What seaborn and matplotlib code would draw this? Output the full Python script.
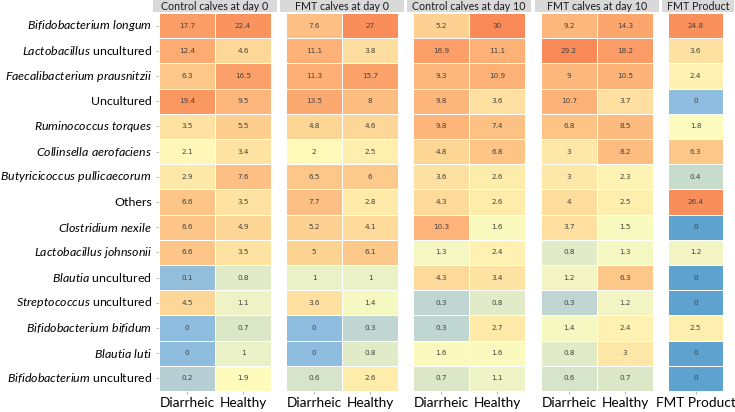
# ===================== IMPORTS =====================
import numpy as np
import pandas as pd
import seaborn as sns
import matplotlib.pyplot as plt
from matplotlib.colors import LinearSegmentedColormap
from matplotlib.patches import Rectangle

sns.set_style("white")
plt.rcParams["font.family"] = ["Lato", "DejaVu Sans"]
plt.rcParams["mathtext.fontset"] = "custom"
plt.rcParams["mathtext.rm"] = "Lato"
plt.rcParams["mathtext.it"] = "Lato:italic"

# ===================== DATA =====================
taxa = [
    r"$\it{Bifidobacterium\ longum}$",
    r"$\it{Lactobacillus}$ uncultured",
    r"$\it{Faecalibacterium\ prausnitzii}$",
    "Uncultured",
    r"$\it{Ruminococcus\ torques}$",
    r"$\it{Collinsella\ aerofaciens}$",
    r"$\it{Butyricicoccus\ pullicaecorum}$ ",
    "Others",
    r"$\it{Clostridium\ nexile}$",
    r"$\it{Lactobacillus\ johnsonii}$",
    r"$\it{Blautia}$ uncultured",
    r"$\it{Streptococcus}$ uncultured",
    r"$\it{Bifidobacterium\ bifidum}$",
    r"$\it{Blautia\ luti}$",
    r"$\it{Bifidobacterium}$ uncultured",
]

panel_titles = ["Control calves at day 0", "FMT calves at day 0",
                "Control calves at day 10", "FMT calves at day 10", "FMT Product"]

# relative abundance (%), cells shown as "0" are tiny but not exactly zero
control_d0_diarrheic = [17.7, 12.4, 6.3, 19.4, 3.5, 2.1, 2.9, 6.6, 6.6, 6.6, 0.1, 4.5, 0.04, 0.04, 0.2]
control_d0_healthy = [22.4, 4.6, 16.5, 9.5, 5.5, 3.4, 7.6, 3.5, 4.9, 3.5, 0.8, 1.1, 0.7, 1, 1.9]
fmt_d0_diarrheic = [7.6, 11.1, 11.3, 13.5, 4.8, 2, 6.5, 7.7, 5.2, 5, 1, 3.6, 0.04, 0.04, 0.6]
fmt_d0_healthy = [27, 3.8, 15.7, 8, 4.6, 2.5, 6, 2.8, 4.1, 6.1, 1, 1.4, 0.3, 0.8, 2.6]
control_d10_diarrheic = [5.2, 16.9, 9.3, 9.8, 9.8, 4.8, 3.6, 4.3, 10.3, 1.3, 4.3, 0.3, 0.3, 1.6, 0.7]
control_d10_healthy = [30, 11.1, 10.9, 3.6, 7.4, 6.8, 2.6, 2.6, 1.6, 2.4, 3.4, 0.8, 2.7, 1.6, 1.1]
fmt_d10_diarrheic = [9.2, 29.2, 9, 10.7, 6.8, 3, 3, 4, 3.7, 0.8, 1.2, 0.3, 1.4, 0.8, 0.6]
fmt_d10_healthy = [14.3, 18.2, 10.5, 3.7, 8.5, 8.2, 2.3, 2.5, 1.5, 1.3, 6.3, 1.2, 2.4, 3, 0.7]
fmt_product = [24.8, 3.6, 2.4, 0.04, 1.8, 6.3, 0.4, 26.4, 0.005, 1.2, 0.005, 0.005, 2.5, 0.005, 0.005]

panels = [
    pd.DataFrame({"Diarrheic": control_d0_diarrheic, "Healthy": control_d0_healthy}, index=taxa),
    pd.DataFrame({"Diarrheic": fmt_d0_diarrheic, "Healthy": fmt_d0_healthy}, index=taxa),
    pd.DataFrame({"Diarrheic": control_d10_diarrheic, "Healthy": control_d10_healthy}, index=taxa),
    pd.DataFrame({"Diarrheic": fmt_d10_diarrheic, "Healthy": fmt_d10_healthy}, index=taxa),
    pd.DataFrame({"FMT Product": fmt_product}, index=taxa),
]

# ===================== COLOUR SCALE (log10) =====================
anchors = [
    (0.005, "#5ea3cf"), (0.04, "#8fbde0"), (0.1, "#93bfdd"), (0.2, "#b5cfd4"),
    (0.3, "#bfd6d2"), (0.4, "#c8dccc"), (0.7, "#dce7c8"), (1.0, "#ebf1c6"),
    (1.5, "#f9fac0"), (2.0, "#fffbbb"), (2.6, "#feedac"), (3.5, "#fee2a2"),
    (5, "#fdd493"), (7, "#fdc386"), (10, "#fdb57a"), (15, "#fca56d"),
    (20, "#fb9862"), (30, "#f98a57"),
]
lo, hi = np.log10(anchors[0][0]), np.log10(anchors[-1][0])
cmap = LinearSegmentedColormap.from_list(
    "abund", [((np.log10(v) - lo) / (hi - lo), c) for v, c in anchors])


def label(v):
    return f"{v:.1f}".rstrip("0").rstrip(".")


# ===================== FIGURE =====================
W, H = 735, 412
fig = plt.figure(figsize=(W / 100, H / 100), dpi=100)

x_left = [159, 286, 413, 541, 668]
x_width = [112, 112, 112, 112, 55]
strip_pad = [(6, 6), (6, 6), (6, 6), (6, 6), (6, 11)]
y_top, y_bot = 13, 391

for i, df in enumerate(panels):
    ax = fig.add_axes([x_left[i] / W, 1 - y_bot / H, x_width[i] / W, (y_bot - y_top) / H])
    annot = df.map(label).values
    sns.heatmap(
        np.log10(df), ax=ax, cmap=cmap, vmin=lo, vmax=hi, cbar=False,
        annot=annot, fmt="", linewidths=0.6, linecolor="white",
        annot_kws={"fontsize": 5.2, "color": "#404040", "family": "DejaVu Sans"},
        xticklabels=df.columns, yticklabels=(i == 0),
    )
    ax.tick_params(axis="x", length=2, width=0.6, color="#aaaaaa", pad=2,
                   labelsize=9.8, labelcolor="black", bottom=True)
    ax.tick_params(axis="y", length=2, width=0.6, color="#aaaaaa", pad=3,
                   labelsize=8.9, labelcolor="black", left=(i == 0))
    ax.set_xticklabels(df.columns, rotation=0)
    if i == 0:
        ax.set_yticklabels(taxa, rotation=0)
    ax.set_xlabel("")
    ax.set_ylabel("")

    # strip title
    sx0 = (x_left[i] - strip_pad[i][0]) / W
    sw = (x_width[i] + sum(strip_pad[i])) / W
    fig.patches.append(Rectangle((sx0, 1 - 12 / H), sw, 12 / H, transform=fig.transFigure,
                                 facecolor="#d9d9d9", edgecolor="none"))
    fig.text(sx0 + sw / 2, 1 - 6 / H, panel_titles[i], ha="center", va="center",
             fontsize=7.7, color="#1a1a1a")

plt.savefig("out.png", dpi=100)
